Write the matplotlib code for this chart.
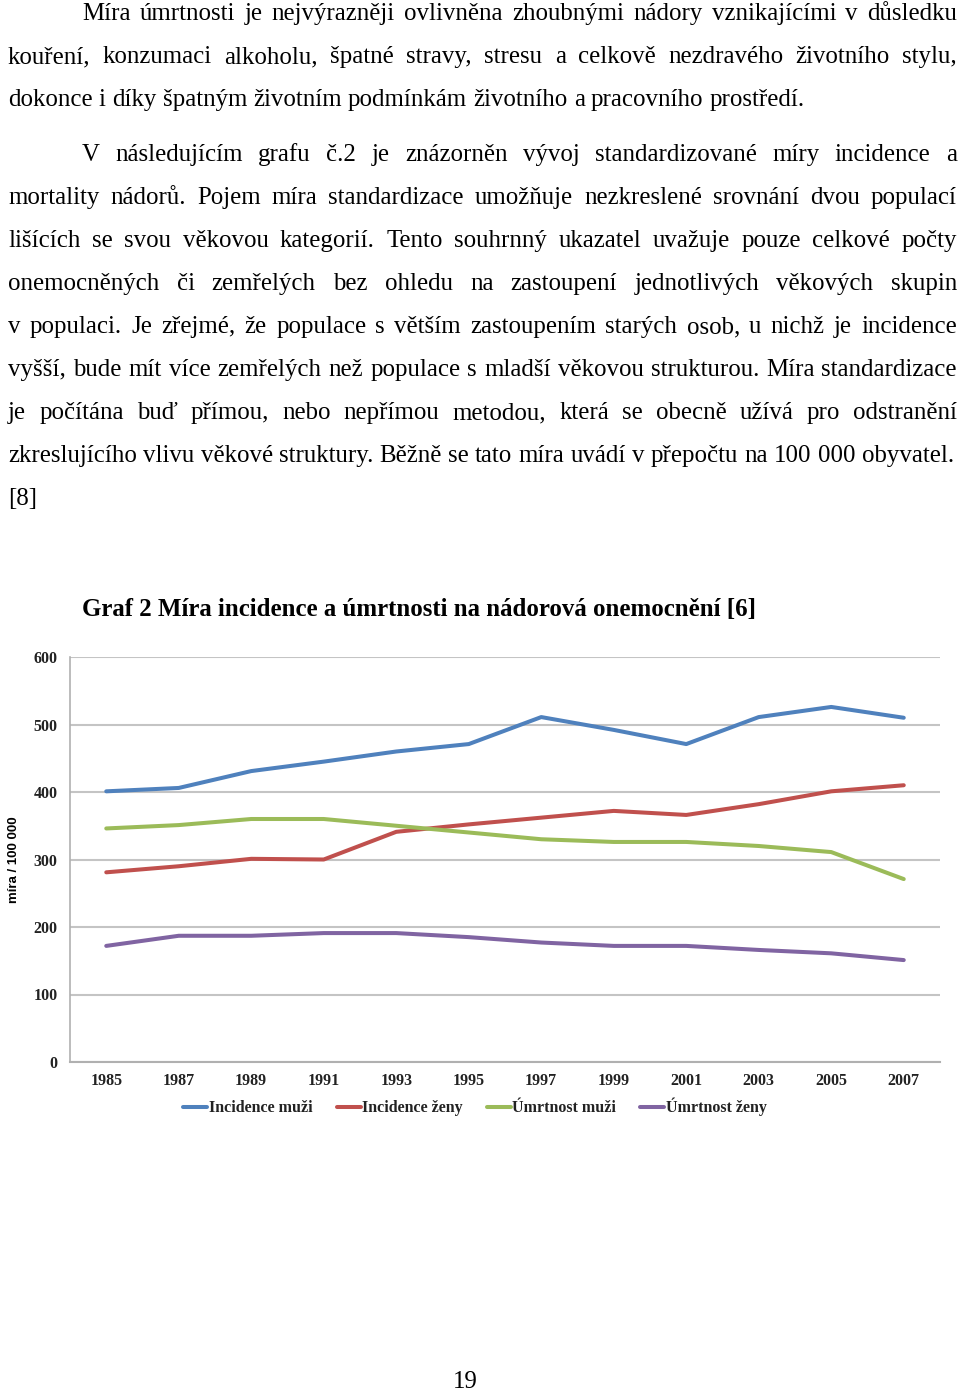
import matplotlib.pyplot as plt

# Data from chart (rate per 100 000)
roky = ['1985', '1987', '1989', '1991', '1993', '1995', '1997', '1999', '2001', '2003', '2005', '2007']
incidence_muzi = [401, 406, 431, 445, 460, 471, 511, 492, 471, 511, 526, 510]
incidence_zeny = [281, 290, 301, 300, 341, 352, 362, 372, 366, 382, 401, 410]
umrtnost_muzi = [346, 351, 360, 360, 350, 340, 330, 326, 326, 320, 311, 271]
umrtnost_zeny = [172, 187, 187, 191, 191, 185, 177, 172, 172, 166, 161, 151]

nazvy = ['Incidence muži', 'Incidence ženy', 'Úmrtnost muži', 'Úmrtnost ženy']
barvy = ['#4F81BD', '#C0504D', '#9BBB59', '#8064A2']

odstavec1 = [
    'Míra úmrtnosti je nejvýrazněji ovlivněna zhoubnými nádory vznikajícími v důsledku',
    'kouření, konzumaci alkoholu, špatné stravy, stresu a celkově nezdravého životního stylu,',
    'dokonce i díky špatným životním podmínkám životního a pracovního prostředí.',
]
odstavec2 = [
    'V následujícím grafu č.2 je znázorněn vývoj standardizované míry incidence a',
    'mortality nádorů. Pojem míra standardizace umožňuje nezkreslené srovnání dvou populací',
    'lišících se svou věkovou kategorií. Tento souhrnný ukazatel uvažuje pouze celkové počty',
    'onemocněných či zemřelých bez ohledu na zastoupení jednotlivých věkových skupin',
    'v populaci. Je zřejmé, že populace s větším zastoupením starých osob, u nichž je incidence',
    'vyšší, bude mít více zemřelých než populace s mladší věkovou strukturou. Míra standardizace',
    'je počítána buď přímou, nebo nepřímou metodou, která se obecně užívá pro odstranění',
    'zkreslujícího vlivu věkové struktury. Běžně se tato míra uvádí v přepočtu na 100 000 obyvatel.',
    '[8]',
]
nadpis = 'Graf 2 Míra incidence a úmrtnosti na nádorová onemocnění [6]'

SERIF = 'Liberation Serif'
W, H = 960, 1391

fig = plt.figure(figsize=(W / 100, H / 100), dpi=100)
fig.patch.set_facecolor('white')

# page layer in pixel coordinates
page = fig.add_axes([0, 0, 1, 1])
page.set_xlim(0, W)
page.set_ylim(H, 0)
page.axis('off')
renderer = fig.canvas.get_renderer()

VELIKOST = 17.9


def radek(text, x0, y, zarovnat, x1=957):
    slova = text.split()
    objekty = [page.text(0, y, s, fontsize=VELIKOST, family=SERIF, va='baseline', ha='left')
               for s in slova]
    sirky = [t.get_window_extent(renderer).width for t in objekty]
    if zarovnat and len(slova) > 1:
        mezera = (x1 - x0 - sum(sirky)) / (len(slova) - 1)
    else:
        mezera = 0.25 * VELIKOST * 100 / 72
    x = x0
    for t, w in zip(objekty, sirky):
        t.set_x(x)
        x += w + mezera


y = 20
for i, r in enumerate(odstavec1):
    radek(r, 82 if i == 0 else 8, y, i < len(odstavec1) - 1)
    y += 43
y = 161
for i, r in enumerate(odstavec2):
    radek(r, 82 if i == 0 else 8, y, i < len(odstavec2) - 2)
    y += 43

page.text(82, 616, nadpis, fontsize=17.9, family=SERIF, fontweight='bold', va='baseline')
page.text(465, 1388, '19', fontsize=VELIKOST, family=SERIF, va='baseline', ha='center')

# chart
ax = fig.add_axes([70 / W, 1 - 1062 / H, 870 / W, 405 / H])
ax.set_facecolor('none')
x = range(len(roky))
for hodnoty, nazev, barva in zip([incidence_muzi, incidence_zeny, umrtnost_muzi, umrtnost_zeny], nazvy, barvy):
    ax.plot(x, hodnoty, color=barva, lw=2.9, label=nazev, solid_capstyle='round', zorder=3)

ax.set_xlim(-0.5, len(roky) - 0.5)
ax.set_ylim(0, 600)
ax.set_yticks(range(0, 601, 100))
ax.set_xticks(list(x))
ax.set_xticklabels(roky)
ax.yaxis.grid(True, color='#c4c4c4', lw=1.5)
ax.set_axisbelow(True)
for s in ['top', 'right']:
    ax.spines[s].set_visible(False)
ax.spines['left'].set_color('#b0b0b0')
ax.spines['bottom'].set_color('#b0b0b0')
ax.spines['left'].set_linewidth(1.2)
ax.spines['bottom'].set_linewidth(1.5)
ax.tick_params(axis='both', length=0)
ax.tick_params(axis='y', pad=9)
ax.tick_params(axis='x', pad=8)
for lab in ax.get_xticklabels() + ax.get_yticklabels():
    lab.set_family(SERIF)
    lab.set_fontweight('bold')
    lab.set_fontsize(11.5)
    lab.set_color('#222222')

fig.text(14 / W, 1 - 860 / H, 'míra / 100 000', rotation=90, ha='center', va='center',
         fontsize=9.5, fontweight='bold', family='Liberation Sans')

leg = fig.legend(loc='center', bbox_to_anchor=(475 / W, 1 - 1107 / H), ncol=4, frameon=False,
                 handlelength=1.5, handletextpad=0.1, columnspacing=1.5,
                 prop={'family': SERIF, 'weight': 'bold', 'size': 11.5})
for t in leg.get_texts():
    t.set_color('#222222')

fig.savefig('out.png', dpi=100)
